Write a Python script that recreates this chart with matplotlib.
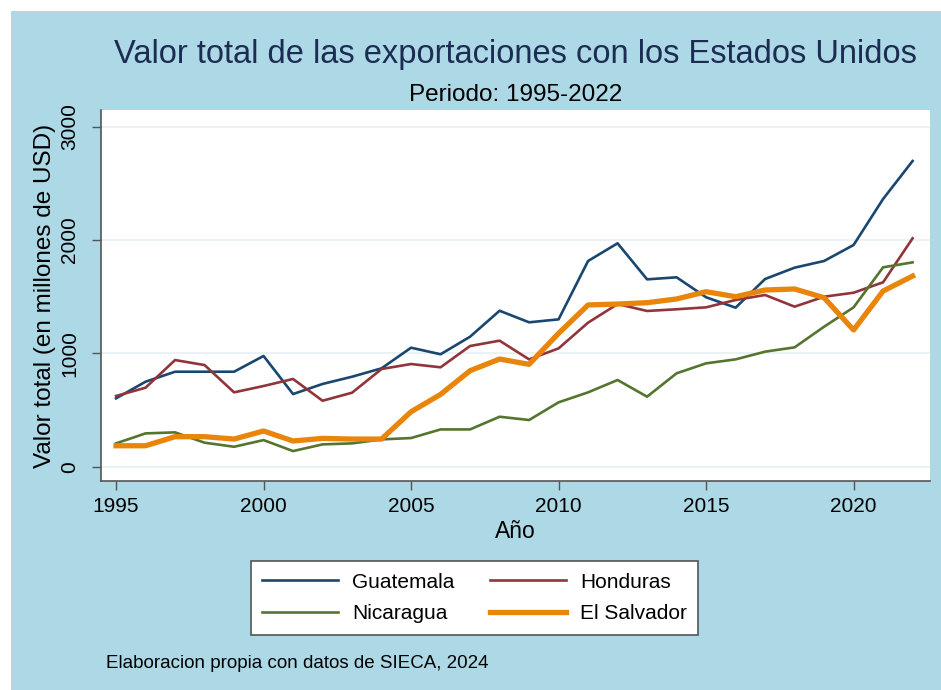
import matplotlib
matplotlib.use("Agg")
import matplotlib.pyplot as plt
from matplotlib.patches import Rectangle

# datos (millones de USD)
anios = list(range(1995, 2023))
guatemala = [603, 750, 838, 838, 838, 977, 641, 730, 794, 868, 1050, 992, 1147, 1376,
             1274, 1300, 1815, 1971, 1653, 1671, 1495, 1403, 1656, 1756, 1815, 1956, 2362, 2697]
honduras = [624, 697, 941, 897, 656, 712, 774, 582, 653, 862, 906, 877, 1065, 1112,
            947, 1044, 1271, 1435, 1374, 1389, 1406, 1471, 1515, 1412, 1500, 1535, 1627, 2015]
nicaragua = [206, 294, 303, 212, 176, 235, 138, 197, 206, 241, 253, 329, 329, 441,
             412, 568, 656, 765, 618, 824, 912, 947, 1015, 1053, 1235, 1406, 1759, 1803]
el_salvador = [185, 185, 265, 265, 244, 315, 227, 250, 244, 244, 485, 638, 847, 950,
               903, 1177, 1427, 1435, 1447, 1480, 1544, 1500, 1559, 1568, 1491, 1206, 1550, 1682]

xticks = [1995, 2000, 2005, 2010, 2015, 2020]
yticks = [0, 1000, 2000, 3000]

plt.rcParams['font.family'] = ['Liberation Sans', 'DejaVu Sans']

fig = plt.figure(figsize=(9.41, 6.90), dpi=100, facecolor='#add8e6')
# borde blanco arriba y a la izquierda
fig.add_artist(Rectangle((0, 0), 11/941, 1, transform=fig.transFigure,
                         facecolor='white', edgecolor='none', zorder=-1))
fig.add_artist(Rectangle((0, 1 - 11/690), 1, 11/690, transform=fig.transFigure,
                         facecolor='white', edgecolor='none', zorder=-1))

ax = fig.add_axes([101/941, 1 - 481/690, (930 - 101)/941, (481 - 110)/690])
ax.set_facecolor('white')

l1, = ax.plot(anios, guatemala, color='#1a476f', lw=1.9, label='Guatemala')
l2, = ax.plot(anios, honduras, color='#90353b', lw=1.9, label='Honduras')
l3, = ax.plot(anios, nicaragua, color='#55752f', lw=1.9, label='Nicaragua')
l4, = ax.plot(anios, el_salvador, color='#e8850a', lw=3.8, label='El Salvador')

ax.set_xlim(1994.49, 2022.59)
ax.set_ylim(-126, 3147)
ax.set_xticks(xticks)
ax.set_yticks(yticks)
ax.set_yticklabels([str(v) for v in yticks], rotation=90, va='center')
ax.tick_params(axis='both', labelsize=15, length=6.5, width=1, color='#555555')
ax.tick_params(axis='y', pad=9)
ax.tick_params(axis='x', pad=5)
ax.grid(axis='y', color='#e8f0f2', lw=1.2)
ax.set_axisbelow(True)
for s in ['top', 'right']:
    ax.spines[s].set_visible(False)
for s in ['left', 'bottom']:
    ax.spines[s].set_color('#555555')
    ax.spines[s].set_linewidth(1.2)

ax.set_xlabel('Año', fontsize=16.5, labelpad=3)
ax.set_ylabel('Valor total (en millones de USD)', fontsize=17.5, labelpad=3)

fig.text(515.5/941, 1 - 55/690, 'Valor total de las exportaciones con los Estados Unidos',
         ha='center', va='center', fontsize=23.5, color='#1c2c52')
fig.text(515.5/941, 1 - 95/690, 'Periodo: 1995-2022', ha='center', va='center', fontsize=17.5)
fig.text(106/941, 1 - 664/690, 'Elaboracion propia con datos de SIECA, 2024',
         ha='left', va='center', fontsize=13.5)

# orden por filas: Guatemala, Honduras / Nicaragua, El Salvador
leg = fig.legend([l1, l3, l2, l4], ['Guatemala', 'Nicaragua', 'Honduras', 'El Salvador'],
                 loc='center', bbox_to_anchor=(474.5/941, 1 - 598/690), ncol=2,
                 fontsize=15, handlelength=3.65, handletextpad=0.67, columnspacing=1.7,
                 frameon=True, fancybox=False, borderpad=0.55, labelspacing=0.62,
                 facecolor='white', framealpha=1)
leg.get_frame().set_edgecolor('#555555')
leg.get_frame().set_linewidth(1.2)

fig.savefig('out.png', dpi=100, facecolor=fig.get_facecolor())
